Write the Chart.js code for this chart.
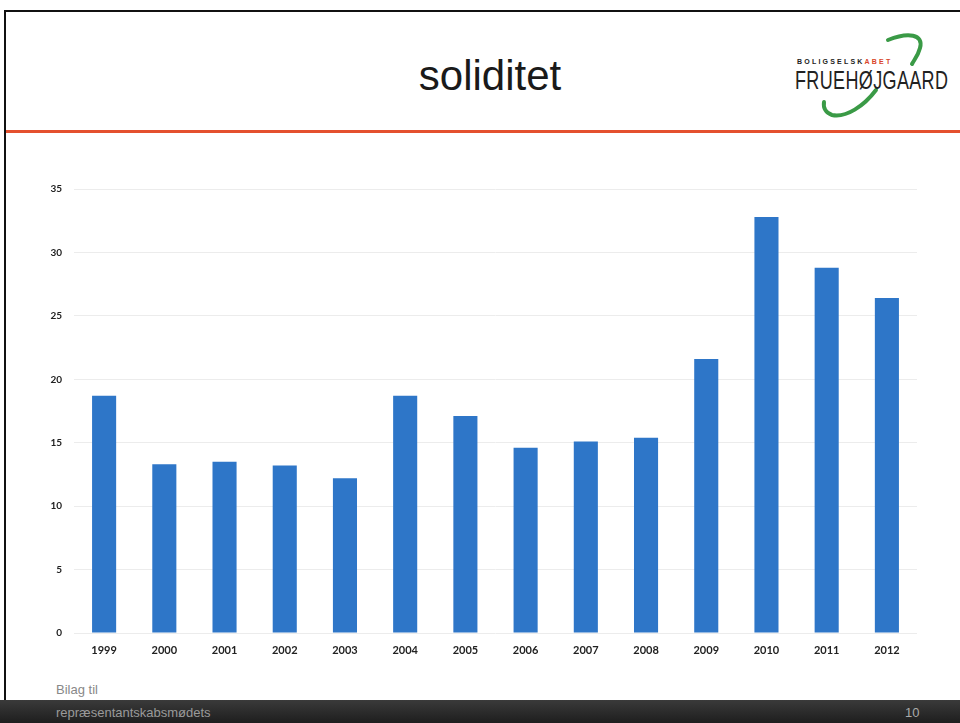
<!DOCTYPE html>
<html lang="da">

<head>
    <meta charset="UTF-8">
    <title>soliditet</title>
    <script src="https://cdn.jsdelivr.net/npm/chart.js@4.4.1/dist/chart.umd.min.js"></script>
    <style>
        html, body { margin: 0; padding: 0; background: #fff; }
        body { width: 960px; height: 723px; position: relative; overflow: hidden; font-family: "Liberation Sans", Arial, sans-serif; }
        .frame { position: absolute; left: 4px; top: 10px; width: 970px; height: 700px; border-left: 2px solid #111; border-top: 2px solid #111; }
        .title { position: absolute; left: 0; width: 980px; top: 52px; text-align: center; font-size: 42px; color: #1a1a1a; }
        .redline { position: absolute; left: 6px; top: 130px; width: 960px; height: 3px; background: #e4502e; }
        .logo-small { position: absolute; left: 797px; top: 58px; font-size: 7px; font-weight: bold; letter-spacing: 2.2px; color: #222; }
        .logo-small span { color: #d9452a; }
        .logo-big { position: absolute; left: 795px; top: 66px; font-size: 25px; color: #222; transform: scaleX(0.72); transform-origin: left top; letter-spacing: 0.5px; }
        .logo-arc { position: absolute; left: 800px; top: 28px; }
        #chart-wrap { position: absolute; left: 20px; top: 170px; width: 920px; height: 500px; }
        .footer { position: absolute; left: 0; top: 700px; width: 960px; height: 23px; background: linear-gradient(#3a3a3a, #1e1e1e); }
        .bilag { position: absolute; left: 56px; top: 682px; font-size: 13px; color: #888; }
        .rep { position: absolute; left: 56px; top: 705px; font-size: 13px; color: #9a9a9a; }
        .page { position: absolute; left: 905px; top: 705px; font-size: 13px; color: #aaa; }
    </style>
</head>

<body>
    <div class="frame"></div>
    <div class="title">soliditet</div>
    <svg class="logo-arc" width="140" height="95" viewBox="0 0 140 95">
        <path d="M88 12 C 108 4, 124 6, 120 20 C 118 28, 114 32, 112 36" fill="none" stroke="#3a9a46" stroke-width="4" stroke-linecap="round"/>
        <path d="M76 62 C 64 78, 46 90, 32 87 C 26 85, 23 80, 24 74" fill="none" stroke="#3a9a46" stroke-width="4" stroke-linecap="round"/>
    </svg>
    <div class="logo-small">BOLIGSELSK<span>ABET</span></div>
    <div class="logo-big">FRUEHØJGAARD</div>
    <div class="redline"></div>

    <div id="chart-wrap"><canvas id="chart"></canvas></div>

    <div class="bilag">Bilag til</div>
    <div class="footer"></div>
    <div class="rep">repræsentantskabsmødets</div>
    <div class="page">10</div>

    <script>
        // data
        const years = ['1999', '2000', '2001', '2002', '2003', '2004', '2005', '2006', '2007', '2008', '2009', '2010', '2011', '2012'];
        const soliditet = [18.7, 13.3, 13.5, 13.2, 12.2, 18.7, 17.1, 14.6, 15.1, 15.4, 21.6, 32.8, 28.8, 26.4];
        const yMax = 35;
        const yStep = 5;

        const canvas = document.getElementById("chart");
        let chart = new Chart(canvas, {
            type: 'bar',
            data: {
                labels: years,
                datasets: [{
                    label: 'soliditet',
                    backgroundColor: '#2e76c8',
                    data: soliditet,
                    categoryPercentage: 1,
                    barPercentage: 0.4
                }]
            },
            options: {
                responsive: true,
                maintainAspectRatio: false,
                animation: false,
                layout: { padding: { left: 14, right: 23, top: 19, bottom: 7 } },
                plugins: {
                    legend: { display: false },
                    tooltip: { enabled: false }
                },
                scales: {
                    x: {
                        grid: { display: false },
                        border: { display: false },
                        ticks: {
                            color: '#222',
                            font: { family: 'Lato', size: 11, weight: 'bold' },
                            padding: 3,
                            maxRotation: 0
                        },
                        afterFit: (scale) => { scale.height = 30; }
                    },
                    y: {
                        min: 0,
                        max: yMax,
                        grid: { color: '#ececec', drawTicks: false },
                        border: { display: false },
                        ticks: {
                            stepSize: yStep,
                            color: '#222',
                            font: { family: 'Lato', size: 10, weight: 'bold' },
                            padding: 12
                        },
                        afterFit: (scale) => { scale.width = 40; }
                    }
                }
            }
        });
    </script>
</body>

</html>
